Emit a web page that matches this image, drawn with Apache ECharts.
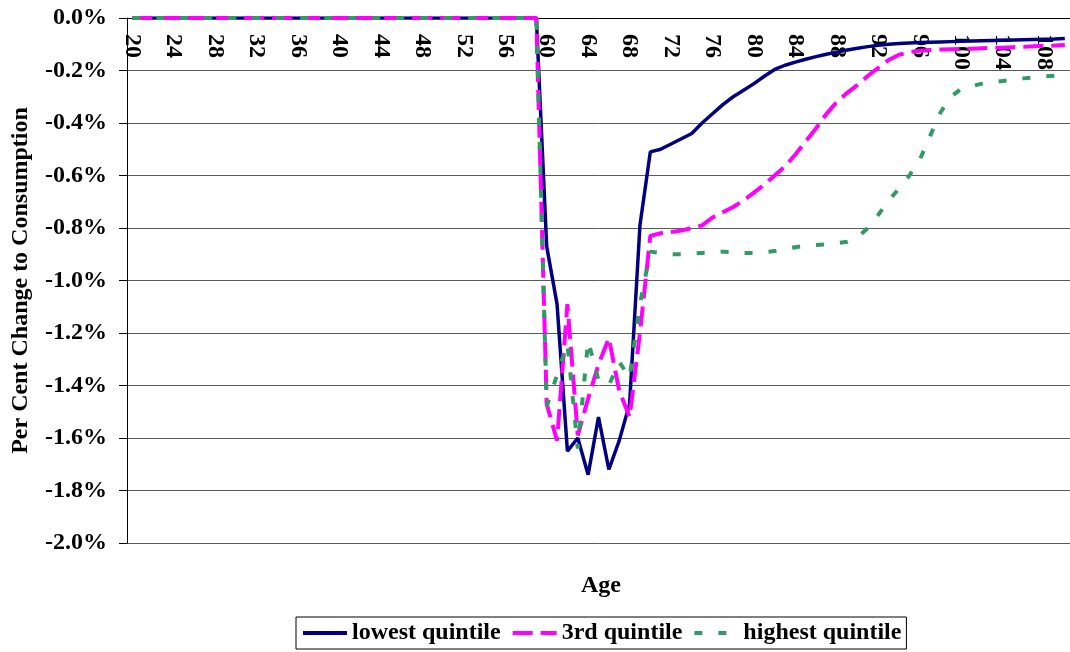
<!DOCTYPE html>
<html>
<head>
<meta charset="utf-8">
<script src="https://cdn.jsdelivr.net/npm/echarts@6/dist/echarts.min.js"></script>
<style>
  html, body { margin: 0; padding: 0; background: #fff; }
  #chart { width: 1070px; height: 652px; }
</style>
</head>
<body>
<div id="chart"></div>
<script>
// Ages 20 .. 110
const ages = [];
for (let a = 20; a <= 110; a++) ages.push(String(a));

// Per cent change to consumption by age (ages 20-59 unchanged)
const flat = new Array(40).fill(0);

const lowestTail = [
  -0.87, -1.09, -1.65, -1.60, -1.74, -1.52, -1.72, -1.61, -1.47, -0.79,   // 60-69
  -0.51, -0.50, -0.48, -0.46, -0.44, -0.40, -0.365, -0.33, -0.30, -0.275, // 70-79
  -0.25, -0.222, -0.196, -0.18, -0.168, -0.157, -0.147, -0.138, -0.13, -0.122, // 80-89
  -0.115, -0.109, -0.104, -0.10, -0.097, -0.095, -0.093, -0.092, -0.091, -0.09, // 90-99
  -0.089, -0.088, -0.087, -0.086, -0.085, -0.084, -0.083, -0.082, -0.081, -0.08, // 100-109
  -0.078                                                                  // 110
];
const thirdTail = [
  -1.47, -1.61, -1.09, -1.59, -1.45, -1.32, -1.22, -1.42, -1.52, -1.20,   // 60-69
  -0.83, -0.82, -0.815, -0.81, -0.80, -0.79, -0.76, -0.74, -0.72, -0.695, // 70-79
  -0.665, -0.635, -0.60, -0.565, -0.52, -0.47, -0.42, -0.365, -0.32, -0.285, // 80-89
  -0.255, -0.22, -0.19, -0.16, -0.14, -0.13, -0.125, -0.122, -0.12, -0.119, // 90-99
  -0.118, -0.117, -0.115, -0.114, -0.113, -0.111, -0.11, -0.108, -0.106, -0.105, // 100-109
  -0.103                                                                  // 110
];
const highestTail = [
  -1.48, -1.36, -1.24, -1.64, -1.23, -1.38, -1.40, -1.31, -1.37, -1.09,   // 60-69
  -0.89, -0.895, -0.90, -0.90, -0.898, -0.895, -0.893, -0.89, -0.892, -0.895, // 70-79
  -0.895, -0.892, -0.888, -0.88, -0.873, -0.868, -0.865, -0.862, -0.858, -0.852, // 80-89
  -0.835, -0.80, -0.75, -0.695, -0.65, -0.60, -0.54, -0.45, -0.36, -0.30, // 90-99
  -0.27, -0.26, -0.25, -0.245, -0.24, -0.235, -0.23, -0.226, -0.223, -0.22, // 100-109
  -0.217                                                                  // 110
];

const lowest = flat.concat(lowestTail);
const third = flat.concat(thirdTail);
const highest = flat.concat(highestTail);

const yTicks = { min: -2.0, max: 0.0, step: 0.2 };

const FONT = '"Liberation Serif", "Times New Roman", serif';
const chart = echarts.init(document.getElementById('chart'), null, { renderer: 'canvas' });

chart.setOption({
  animation: false,
  backgroundColor: '#fff',
  grid: { left: 127, right: 0, top: 18, bottom: 109, containLabel: false },
  xAxis: {
    type: 'category',
    position: 'top',
    data: ages,
    boundaryGap: true,
    axisLine: { onZero: false, lineStyle: { color: '#000', width: 1 } },
    axisTick: { inside: true, interval: 0, length: 6, lineStyle: { color: '#000' } },
    axisLabel: {
      inside: true, interval: 3, rotate: 90, margin: 16,
      fontFamily: FONT, fontWeight: 'bold', fontSize: 24, color: '#000'
    },
    splitLine: { show: false }
  },
  yAxis: {
    type: 'value',
    min: yTicks.min, max: yTicks.max, interval: yTicks.step,
    axisLine: { show: true, lineStyle: { color: '#000', width: 1 } },
    axisTick: { show: true, length: 8, lineStyle: { color: '#000' } },
    axisLabel: {
      margin: 20,
      formatter: v => (Math.abs(v) < 1e-9 ? 0 : v).toFixed(1) + '%',
      fontFamily: FONT, fontWeight: 'bold', fontSize: 24, color: '#000'
    },
    splitLine: { lineStyle: { color: '#5a5a5a', width: 1 } },
    name: 'Per Cent Change to Consumption',
    nameLocation: 'middle',
    nameRotate: 90,
    nameGap: 94,
    nameTextStyle: { fontFamily: FONT, fontWeight: 'bold', fontSize: 24, color: '#000' }
  },
  legend: {
    left: 296, top: 617,
    itemWidth: 44, itemHeight: 14, itemGap: 10,
    padding: [4, 5],
    borderColor: '#000', borderWidth: 1,
    itemStyle: { opacity: 0 },
    lineStyle: { width: 4 },
    textStyle: { fontFamily: FONT, fontWeight: 'bold', fontSize: 24, color: '#000' },
    data: ['lowest quintile', '3rd quintile', 'highest quintile']
  },
  graphic: [{
    type: 'text', x: 601, y: 586,
    style: {
      text: 'Age', textAlign: 'center', textVerticalAlign: 'middle',
      font: 'bold 24px ' + FONT, fill: '#000'
    }
  }],
  series: [
    {
      name: 'lowest quintile', type: 'line', data: lowest, symbol: 'none',
      lineStyle: { color: '#000080', width: 3.5, type: 'solid' },
      itemStyle: { color: '#000080' }, z: 2
    },
    {
      name: '3rd quintile', type: 'line', data: third, symbol: 'none',
      lineStyle: { color: '#ff00ff', width: 4, type: [20, 8] },
      itemStyle: { color: '#ff00ff' }, z: 3
    },
    {
      name: 'highest quintile', type: 'line', data: highest, symbol: 'none',
      lineStyle: { color: '#339966', width: 4, type: [8, 16] },
      itemStyle: { color: '#339966' }, z: 4
    }
  ]
});
</script>
</body>
</html>
